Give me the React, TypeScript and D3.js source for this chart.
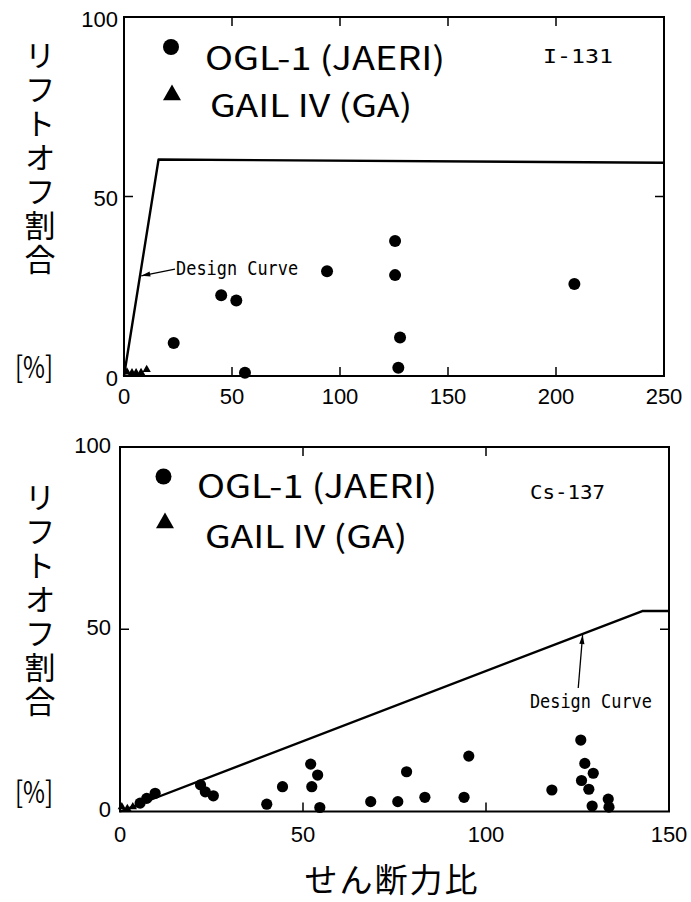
import React from "react";
import * as d3 from "d3";

// ---------- data ----------
const topXTicks = [0, 50, 100, 150, 200, 250];
const bottomXTicks = [0, 50, 100, 150];
const yTicks = [0, 50, 100];

const legendLabels = ["OGL-1 (JAERI)", "GAIL IV (GA)"];
const yTitle = "リフトオフ割合";
const yUnit = "[%]";
const xTitle = "せん断力比";
const designLabel = "Design Curve";

// I-131 panel
const iodineOGL: [number, number][] = [
  [23, 9.2], [45, 22.5], [52, 21], [56, 0.9], [94, 29.2],
  [125.5, 37.6], [125.5, 28.1], [127.8, 10.7], [127, 2.3], [208.5, 25.6],
];
const iodineGAIL: [number, number][] = [
  [1.4, 0.8], [3.7, 0.6], [5.6, 0.6], [7.9, 0.7], [10.5, 1.5],
];
const iodineDesign: [number, number][] = [[0, 0], [16, 60.3], [250, 59.4]];

// Cs-137 panel
const cesiumOGL: [number, number][] = [
  [5.5, 2.3], [7.3, 3.6], [9.6, 5.0], [22, 7.3], [23.3, 5.4], [25.5, 4.3],
  [40.1, 2.0], [44.4, 6.8], [52.1, 13.0], [54, 10], [52.4, 6.8], [54.6, 1.1],
  [68.5, 2.7], [75.9, 2.7], [78.3, 10.9], [83.3, 3.9], [94, 3.9], [95.3, 15.2],
  [118, 5.9], [125.9, 19.6], [127, 13.2], [129.3, 10.5], [126.1, 8.5],
  [128.1, 6.1], [129, 1.5], [133.4, 3.4], [133.6, 1.2],
];
const cesiumGAIL: [number, number][] = [
  [0.5, 1], [2, 0.5], [3.5, 1], [5, 1.5],
];
const cesiumDesign: [number, number][] = [[0, 0], [142.7, 55], [150, 55]];

// ---------- panel ----------
type PanelProps = {
  box: { l: number; t: number; r: number; b: number };
  xMax: number;
  xTicks: number[];
  ogl: [number, number][];
  gail: [number, number][];
  design: [number, number][];
  isotope: string;
  isoPos: [number, number];
  isoWidth: number;
  labelAt: [number, number];
  arrowFrom: [number, number];
  arrowTo: [number, number];
  legend: { cx: number; cy: number; tx: number; ty: number; cx2: number; cy2: number; tx2: number; ty2: number };
  titleTop: number;
  unitCY: number;
  yLabelGap: number;
  yLabelDy: number;
  xLabelDy: number;
  dotR: number;
};

const FONT_JP = "'Noto Sans CJK JP', 'Noto Sans', sans-serif";
const FONT_NUM = "'Liberation Sans', Arial, sans-serif";
const FONT_MONO = "'DejaVu Sans Mono', 'Liberation Mono', monospace";

function Panel(p: PanelProps) {
  const { box } = p;
  const x = d3.scaleLinear().domain([0, p.xMax]).range([box.l, box.r]);
  const y = d3.scaleLinear().domain([0, 100]).range([box.b, box.t]);
  const line = d3.line<[number, number]>().x((d) => x(d[0])).y((d) => y(d[1]));
  const tri = d3.symbol(d3.symbolTriangle, 30)();
  const triLegend = d3.symbol(d3.symbolTriangle, 140)();
  const tickLen = 9;
  const innerX = p.xTicks.filter((v) => v > 0 && v < p.xMax);
  const innerY = yTicks.filter((v) => v > 0 && v < 100);

  const ax0 = x(p.arrowFrom[0]), ay0 = y(p.arrowFrom[1]);
  const ax1 = x(p.arrowTo[0]), ay1 = y(p.arrowTo[1]);
  const ang = Math.atan2(ay1 - ay0, ax1 - ax0);
  const hl = 9, hw = 2.6;
  const head = [
    [ax1, ay1],
    [ax1 - hl * Math.cos(ang) + hw * Math.sin(ang), ay1 - hl * Math.sin(ang) - hw * Math.cos(ang)],
    [ax1 - hl * Math.cos(ang) - hw * Math.sin(ang), ay1 - hl * Math.sin(ang) + hw * Math.cos(ang)],
  ];

  return (
    <g>
      {/* frame */}
      <rect x={box.l} y={box.t} width={box.r - box.l} height={box.b - box.t} fill="none" stroke="#000" strokeWidth={2} />
      {/* inner ticks */}
      {innerX.map((v) => (
        <g key={"xt" + v}>
          <line x1={x(v)} x2={x(v)} y1={box.b} y2={box.b - tickLen} stroke="#000" strokeWidth={1.5} />
          <line x1={x(v)} x2={x(v)} y1={box.t} y2={box.t + tickLen} stroke="#000" strokeWidth={1.5} />
        </g>
      ))}
      {innerY.map((v) => (
        <g key={"yt" + v}>
          <line x1={box.l} x2={box.l + tickLen} y1={y(v)} y2={y(v)} stroke="#000" strokeWidth={1.5} />
          <line x1={box.r} x2={box.r - tickLen} y1={y(v)} y2={y(v)} stroke="#000" strokeWidth={1.5} />
        </g>
      ))}
      {/* tick labels */}
      {p.xTicks.map((v) => (
        <text key={"xl" + v} x={x(v)} y={box.b + p.xLabelDy} textAnchor="middle" fontFamily={FONT_NUM} fontSize={22} fill="#000">
          {v}
        </text>
      ))}
      {yTicks.map((v) => (
        <text key={"yl" + v} x={box.l - p.yLabelGap} y={y(v) + p.yLabelDy} textAnchor="end" dominantBaseline="central" fontFamily={FONT_NUM} fontSize={22} fill="#000">
          {v}
        </text>
      ))}
      {/* design curve */}
      <path d={line(p.design) || ""} fill="none" stroke="#000" strokeWidth={2.4} strokeLinejoin="round" />
      <line x1={ax0} y1={ay0} x2={ax1} y2={ay1} stroke="#000" strokeWidth={1.3} />
      <path d={"M" + head.map((q) => q.join(",")).join("L") + "Z"} fill="#000" />
      <text x={x(p.labelAt[0])} y={y(p.labelAt[1])} fontFamily={FONT_MONO} fontSize={20} textLength={122} lengthAdjust="spacingAndGlyphs" fill="#000">
        {designLabel}
      </text>
      {/* data */}
      {p.gail.map((d, i) => (
        <path key={"g" + i} d={tri || ""} transform={`translate(${x(d[0])},${y(d[1]) - 1})`} fill="#000" />
      ))}
      {p.ogl.map((d, i) => (
        <circle key={"o" + i} cx={x(d[0])} cy={y(d[1])} r={p.dotR} fill="#000" />
      ))}
      {/* legend */}
      <circle cx={p.legend.cx} cy={p.legend.cy} r={8} fill="#000" />
      <text x={p.legend.tx} y={p.legend.ty} fontFamily={FONT_JP} fontSize={32} textLength={240} lengthAdjust="spacingAndGlyphs" fill="#000">
        {legendLabels[0]}
      </text>
      <path d={triLegend || ""} transform={`translate(${p.legend.cx2},${p.legend.cy2})`} fill="#000" />
      <text x={p.legend.tx2} y={p.legend.ty2} fontFamily={FONT_JP} fontSize={31} textLength={202} lengthAdjust="spacingAndGlyphs" fill="#000">
        {legendLabels[1]}
      </text>
      {/* isotope */}
      <text x={p.isoPos[0]} y={p.isoPos[1]} fontFamily={FONT_MONO} fontSize={20} textLength={p.isoWidth} lengthAdjust="spacingAndGlyphs" fill="#000">
        {p.isotope}
      </text>
      {/* y title (vertical writing) */}
      <text x={40} y={p.titleTop} style={{ writingMode: "vertical-rl" }} fontFamily={FONT_JP} fontSize={31} letterSpacing={3} fill="#000">
        {yTitle}
      </text>
      <text x={34} y={p.unitCY} textAnchor="middle" dominantBaseline="central" fontFamily={FONT_JP} fontSize={30} textLength={38} lengthAdjust="spacingAndGlyphs" fill="#000">
        {yUnit}
      </text>
    </g>
  );
}

export default function App() {
  return (
    <svg width={691} height={902} viewBox="0 0 691 902" style={{ position: "absolute", left: 0, top: 0, background: "#fff" }}>
      <rect x={0} y={0} width={691} height={902} fill="#fff" />
      <Panel
        box={{ l: 124, t: 17, r: 664, b: 376 }}
        xMax={250}
        xTicks={topXTicks}
        ogl={iodineOGL}
        gail={iodineGAIL}
        design={iodineDesign}
        isotope="I-131"
        isoPos={[543, 63]}
        isoWidth={70}
        labelAt={[24.1, 28.1]}
        arrowFrom={[23.6, 29.8]}
        arrowTo={[8.0, 27.9]}
        legend={{ cx: 171, cy: 47, tx: 205, ty: 70, cx2: 172, cy2: 95, tx2: 210, ty2: 117 }}
        titleTop={40}
        unitCY={365}
        yLabelGap={6}
        yLabelDy={2}
        xLabelDy={28}
        dotR={6}
      />
      <Panel
        box={{ l: 120, t: 447, r: 669, b: 811.5 }}
        xMax={150}
        xTicks={bottomXTicks}
        ogl={cesiumOGL}
        gail={cesiumGAIL}
        design={cesiumDesign}
        isotope="Cs-137"
        isoPos={[530, 499]}
        isoWidth={75}
        labelAt={[112, 28.4]}
        arrowFrom={[125.2, 33.9]}
        arrowTo={[126.4, 48.4]}
        legend={{ cx: 163.5, cy: 476.5, tx: 197, ty: 498, cx2: 165, cy2: 523, tx2: 205, ty2: 548 }}
        titleTop={482}
        unitCY={790}
        yLabelGap={9}
        yLabelDy={-2}
        xLabelDy={30.5}
        dotR={5.6}
      />
      <text x={392} y={892} textAnchor="middle" fontFamily={FONT_JP} fontSize={33} letterSpacing={2} fill="#000">
        {xTitle}
      </text>
    </svg>
  );
}
